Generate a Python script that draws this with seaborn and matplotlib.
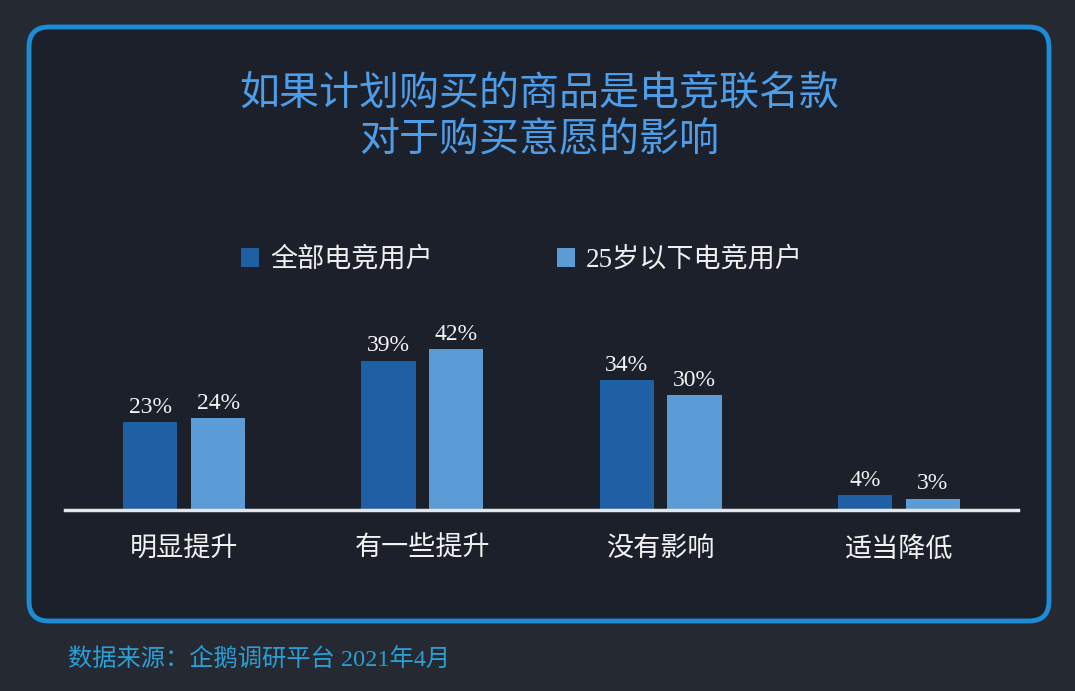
import numpy as np
import pandas as pd
import seaborn as sns
import matplotlib
matplotlib.use('Agg')
from matplotlib import pyplot as plt
from matplotlib.patches import FancyBboxPatch

categories = ['明显提升', '有一些提升', '没有影响', '适当降低']
series_names = ['全部电竞用户', '25岁以下电竞用户']
all_users = [23, 39, 34, 4]
under_25 = [24, 42, 30, 3]

title_text = '如果计划购买的商品是电竞联名款\n对于购买意愿的影响'
source_text = '数据来源：企鹅调研平台 2021年4月'

W, H = 1075, 691
dark_blue = '#1f5fa4'
light_blue = '#5b9bd6'

sns.set_theme(style='white')
plt.rcParams['font.family'] = ['Liberation Serif', 'Noto Sans CJK SC', 'DejaVu Sans']

df = pd.DataFrame({
    'cat': categories * 2,
    'val': all_users + under_25,
    'grp': [series_names[0]] * len(categories) + [series_names[1]] * len(categories),
})

fig = plt.figure(figsize=(W / 100, H / 100), dpi=100)
fig.patch.set_facecolor('#242932')

# background panel with rounded border
bg = fig.add_axes([0, 0, 1, 1])
bg.set_xlim(0, W)
bg.set_ylim(H, 0)
bg.axis('off')
box = FancyBboxPatch((29, 27), 1020, 594, boxstyle='round,pad=0,rounding_size=20',
                     facecolor='#1b202b', edgecolor='#1c8cd4', linewidth=3.5)
bg.add_patch(box)
yy, xx = np.mgrid[0:H, 0:W]
r = np.sqrt(((xx - 540) / 620.0) ** 2 + ((yy - 300) / 420.0) ** 2)
shade = np.clip(1 - r, 0, 1)
c0 = np.array([0x15, 0x1a, 0x25]) / 255.0
c1 = np.array([0x28, 0x2e, 0x3a]) / 255.0
img = c0 + (c1 - c0) * shade[..., None]
im = bg.imshow(img, extent=(0, W, H, 0), zorder=0.5, aspect='auto')
im.set_clip_path(box)

ax = fig.add_axes([65 / W, (H - 510) / H, 953 / W, 191.5 / H])
ax.patch.set_alpha(0)
sns.barplot(data=df, x='cat', y='val', hue='grp', palette=[dark_blue, light_blue],
            width=0.57, gap=0.2, saturation=1, linewidth=0, edgecolor='none',
            ax=ax, legend=True)
ax.set_xlim(-0.5, 3.5)
ax.set_ylim(0, 50)
ax.set_xlabel('')
ax.set_ylabel('')
ax.set_yticks([])
for s in ['top', 'right', 'left']:
    ax.spines[s].set_visible(False)
ax.spines['bottom'].set_color('#e4e6ea')
ax.spines['bottom'].set_linewidth(2.5)
ax.spines['bottom'].set_zorder(5)
ax.tick_params(axis='x', length=0, pad=19.5, labelsize=19.5, labelcolor='#f2f2f2')

for cont in ax.containers:
    ax.bar_label(cont, fmt='{:.0f}%', padding=3, fontsize=17, color='#f4f4f4')

handles, labels = ax.get_legend_handles_labels()
ax.get_legend().remove()
leg = fig.legend(handles, labels, loc='center', bbox_to_anchor=(522 / W, 1 - 260 / H),
                 ncol=2, frameon=False, fontsize=19.5, handlelength=0.67, handleheight=0.67,
                 handletextpad=0.4, columnspacing=4.6)
for t in leg.get_texts():
    t.set_color('#f0f0f0')
for h in leg.legend_handles:
    h.set_edgecolor('none')
    h.set_linewidth(0)

fig.text(539 / W, 1 - 118 / H, title_text, ha='center', va='center', fontsize=28.8,
         color='#4d9de8', linespacing=1.3)
fig.text(68 / W, 1 - 659 / H, source_text, ha='left', va='center', fontsize=17.5,
         color='#2a9fd6')

fig.savefig('out.png', dpi=100, facecolor=fig.get_facecolor())
